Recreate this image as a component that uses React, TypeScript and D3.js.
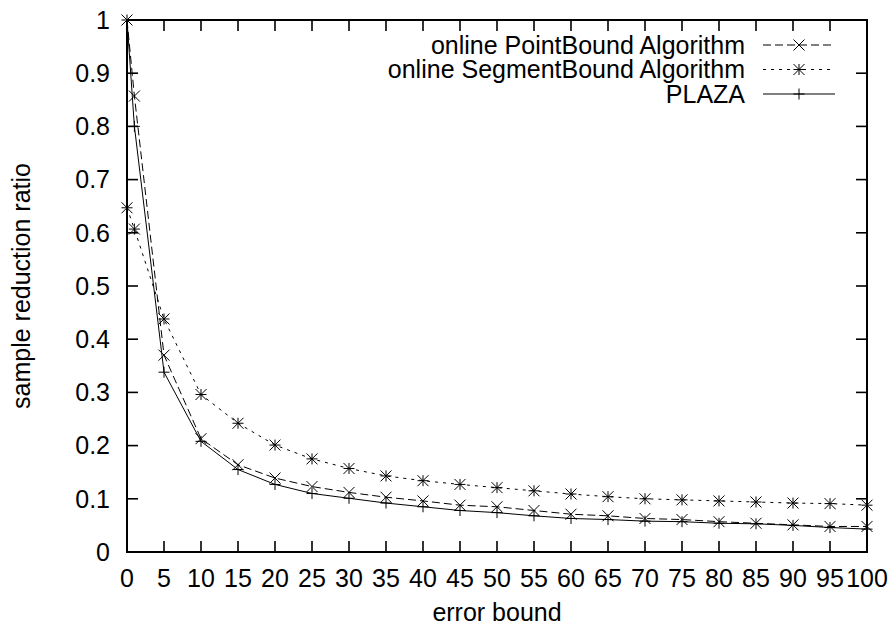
import React from "react";
import * as d3 from "d3";

// Error bound values at which each algorithm was evaluated
const errorBounds = [0, 1, 5, 10, 15, 20, 25, 30, 35, 40, 45, 50, 55, 60, 65, 70, 75, 80, 85, 90, 95, 100];

// Sample reduction ratio for each algorithm
const pointBound = [1.0, 0.857, 0.37, 0.213, 0.164, 0.139, 0.123, 0.112, 0.103, 0.096, 0.088, 0.085, 0.078, 0.071, 0.068, 0.063, 0.061, 0.057, 0.054, 0.051, 0.048, 0.048];
const segmentBound = [0.647, 0.607, 0.438, 0.296, 0.242, 0.201, 0.175, 0.157, 0.143, 0.134, 0.127, 0.121, 0.115, 0.109, 0.104, 0.1, 0.098, 0.096, 0.094, 0.092, 0.091, 0.088];
const plaza = [1.0, 0.8, 0.338, 0.208, 0.155, 0.127, 0.11, 0.101, 0.092, 0.085, 0.078, 0.074, 0.068, 0.063, 0.061, 0.058, 0.057, 0.054, 0.053, 0.05, 0.046, 0.043];

const xTickValues = [0, 5, 10, 15, 20, 25, 30, 35, 40, 45, 50, 55, 60, 65, 70, 75, 80, 85, 90, 95, 100];
const yTickValues = [0, 0.1, 0.2, 0.3, 0.4, 0.5, 0.6, 0.7, 0.8, 0.9, 1];
const yTickLabels = ["0", "0.1", "0.2", "0.3", "0.4", "0.5", "0.6", "0.7", "0.8", "0.9", "1"];

const seriesNames = ["online PointBound Algorithm", "online SegmentBound Algorithm", "PLAZA"];

const W = 892;
const H = 626;
const left = 127;
const right = 867;
const top = 20;
const bottom = 552;
const FONT = "'Liberation Sans', Arial, Helvetica, sans-serif";
const FS = 25;
const TICK = 11;

type Marker = "cross" | "star" | "plus";

function markerPath(kind: Marker, cx: number, cy: number): string {
  const r = 5.5;
  const plusP = `M${cx - r},${cy}H${cx + r}M${cx},${cy - r}V${cy + r}`;
  const crossP = `M${cx - r},${cy - r}L${cx + r},${cy + r}M${cx - r},${cy + r}L${cx + r},${cy - r}`;
  if (kind === "plus") return plusP;
  if (kind === "cross") return crossP;
  return plusP + crossP;
}

export default function App() {
  const x = d3.scaleLinear().domain([0, 100]).range([left, right]);
  const y = d3.scaleLinear().domain([0, 1]).range([bottom, top]);

  const series = [
    { name: seriesNames[0], values: pointBound, dash: "8,4", marker: "cross" as Marker },
    { name: seriesNames[1], values: segmentBound, dash: "3,5", marker: "star" as Marker },
    { name: seriesNames[2], values: plaza, dash: undefined, marker: "plus" as Marker },
  ];

  const line = d3
    .line<number>()
    .x((_, i) => x(errorBounds[i]))
    .y((d) => y(d));

  const legendTextX = 745;
  const legendLineX0 = 763;
  const legendLineX1 = 835;
  const legendBaselines = [53.5, 78, 102.5];

  return (
    <svg
      width={W}
      height={H}
      viewBox={`0 0 ${W} ${H}`}
      style={{ position: "absolute", left: 0, top: 0, background: "#fff" }}
      fontFamily={FONT}
    >
      <rect x={0} y={0} width={W} height={H} fill="#fff" />

      {/* tick marks on all four sides, pointing inward */}
      <g stroke="#000" strokeWidth={1.6}>
        {xTickValues.map((t) => (
          <g key={`xt${t}`}>
            <line x1={x(t)} x2={x(t)} y1={bottom} y2={bottom - TICK} />
            <line x1={x(t)} x2={x(t)} y1={top} y2={top + TICK} />
          </g>
        ))}
        {yTickValues.map((t) => (
          <g key={`yt${t}`}>
            <line x1={left} x2={left + TICK} y1={y(t)} y2={y(t)} />
            <line x1={right} x2={right - TICK} y1={y(t)} y2={y(t)} />
          </g>
        ))}
      </g>

      {/* tick labels */}
      <g fontSize={FS} fill="#000">
        {xTickValues.map((t) => (
          <text key={`xl${t}`} x={x(t)} y={587} textAnchor="middle">
            {String(t)}
          </text>
        ))}
        {yTickValues.map((t, i) => (
          <text key={`yl${t}`} x={110} y={y(t) + 8.8} textAnchor="end">
            {yTickLabels[i]}
          </text>
        ))}
      </g>

      {/* axis titles */}
      <text x={(left + right) / 2} y={621} textAnchor="middle" fontSize={FS}>
        error bound
      </text>
      <text
        transform={`translate(30,${(top + bottom) / 2}) rotate(-90)`}
        textAnchor="middle"
        fontSize={FS}
      >
        sample reduction ratio
      </text>

      {/* data series */}
      {series.map((s) => (
        <g key={s.name}>
          <path d={line(s.values) ?? ""} fill="none" stroke="#000" strokeWidth={1} strokeDasharray={s.dash} />
          <path
            d={s.values.map((v, i) => markerPath(s.marker, x(errorBounds[i]), y(v))).join("")}
            fill="none"
            stroke="#000"
            strokeWidth={1}
          />
        </g>
      ))}

      {/* key */}
      {series.map((s, i) => {
        const by = legendBaselines[i];
        const ly = by - 8.5;
        return (
          <g key={`lg${i}`}>
            <text x={legendTextX} y={by} textAnchor="end" fontSize={FS}>
              {s.name}
            </text>
            <line x1={legendLineX0} x2={legendLineX1} y1={ly} y2={ly} stroke="#000" strokeWidth={1} strokeDasharray={s.dash} />
            <path d={markerPath(s.marker, (legendLineX0 + legendLineX1) / 2, ly)} fill="none" stroke="#000" strokeWidth={1} />
          </g>
        );
      })}

      {/* frame */}
      <rect x={left} y={top} width={right - left} height={bottom - top} fill="none" stroke="#000" strokeWidth={2} />
    </svg>
  );
}
